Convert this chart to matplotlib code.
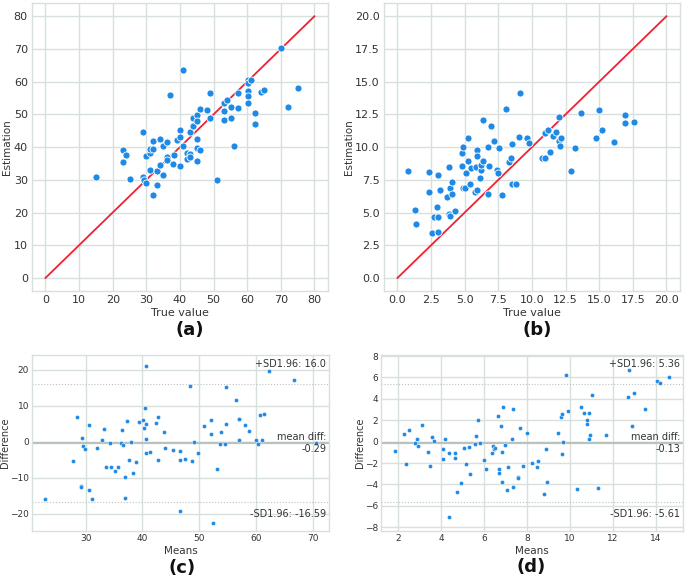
import numpy as np
import matplotlib
matplotlib.use("Agg")
from matplotlib import pyplot as plt

# (a) true value vs estimation
a_true = [15, 23.1, 23.9, 23.1, 25, 29, 29, 29.2, 30, 30, 31, 31.1, 31.1, 32.1, 32.1, 32.1,
          33.1, 33.1, 34, 34, 35, 35, 36.1, 36.1, 36.1, 37.1, 38, 38.2, 39, 40, 40, 40,
          41, 41, 42, 42, 43.1, 43.1, 43.1, 43.9, 43.9, 45, 45, 45, 45, 45, 46, 46,
          48.1, 49, 49, 51.1, 53.1, 53.1, 53.1, 54.1, 55.1, 55.1, 56.1, 57.2, 57.2,
          60.1, 60.1, 60.1, 60.1, 60.1, 61.2, 62.2, 62.2, 64.2, 65.1, 70, 72.1, 75]
a_est = [31, 39.1, 37.5, 35.5, 30.4, 44.7, 31, 30, 37.2, 28.9, 38.1, 39.3, 32.9, 42, 39.3, 25.3,
         32.7, 28.3, 42.6, 34.5, 40.2, 31.6, 41.7, 36.9, 36.1, 56, 34.8, 37.7, 42.2, 45.3, 43, 34.2,
         63.6, 40.2, 38.3, 36.3, 44.7, 38, 36.9, 49, 46.3, 49.9, 47.9, 42.6, 39.6, 35.8, 51.5, 39.1,
         51.2, 56.5, 48.8, 29.9, 53.4, 50.9, 48.4, 54.5, 52.3, 48.9, 40.4, 56.6, 52,
         60.4, 59.5, 57, 55.5, 53.6, 60.4, 50.4, 47.1, 56.9, 57.5, 70.3, 52.3, 58]

# (b) true value vs estimation
b_true = [0.82, 1.34, 1.41, 2.31, 2.38, 2.6, 2.73, 2.93, 2.98, 2.98, 2.98, 3.18, 3.7, 3.82, 3.82,
          3.9, 3.9, 4.09, 4.09, 4.29, 4.81, 4.81, 4.84, 4.89, 5.04, 5.09, 5.21, 5.24, 5.41, 5.43,
          5.73, 5.81, 5.91, 5.93, 5.93, 6.13, 6.2, 6.2, 6.33, 6.33, 6.72, 6.75, 6.8, 6.97, 7.17,
          7.37, 7.49, 7.57, 7.79, 8.09, 8.29, 8.44, 8.49, 8.49, 8.83, 9.0, 9.11, 9.63, 9.8,
          10.72, 10.97, 10.99, 11.19, 11.32, 11.59, 11.76, 11.99, 11.99, 12.11, 12.18, 12.9,
          13.23, 13.62, 14.79, 14.99, 15.21, 16.1, 16.9, 16.9, 17.62]
b_est = [8.15, 5.2, 4.1, 6.6, 8.1, 3.44, 4.69, 5.45, 7.9, 4.64, 3.52, 6.75, 6.19, 8.48, 4.92,
         6.9, 4.71, 7.36, 6.42, 5.12, 9.55, 8.59, 6.88, 10.01, 6.88, 8.03, 10.73, 8.97, 7.16, 8.43,
         6.55, 8.48, 9.76, 9.35, 6.73, 7.67, 8.28, 8.66, 12.05, 8.97, 10.04, 6.42, 8.56, 11.64, 10.47,
         8.25, 8.0, 9.91, 6.34, 12.94, 8.84, 9.2, 10.27, 7.16, 7.16, 10.78, 14.17, 10.73, 10.32,
         9.17, 9.17, 11.06, 11.31, 9.63, 10.85, 11.13, 12.31, 10.45, 10.11, 10.7, 8.15,
         9.91, 12.61, 10.7, 12.82, 11.34, 10.39, 12.46, 11.82, 11.9]

# (c) Bland-Altman: means / differences
c_mean = [22.9, 27.7, 28.5, 29.1, 29.2, 29.4, 29.6, 29.9, 30.6, 30.6, 31.1, 31.9, 32.9, 33.3,
          33.6, 34.3, 34.5, 35.2, 35.7, 36.2, 36.4, 36.5, 36.9, 37.0, 37.2, 37.6, 38.0, 38.4,
          38.9, 39.3, 40.1, 40.2, 40.4, 40.6, 40.6, 40.7, 40.7, 41.4, 42.3, 42.7, 42.7, 43.8,
          43.9, 45.4, 46.6, 46.6, 46.7, 47.5, 48.4, 48.8, 49.1, 49.7, 50.9, 52.0, 52.1, 52.5,
          53.1, 53.6, 53.8, 54.5, 54.8, 54.8, 56.5, 57.0, 57.1, 57.0, 58.0, 58.7, 60.0, 60.4,
          60.7, 61.0, 61.5, 62.3, 66.7, 70.5]
c_diff = [-15.8, -5.3, 6.9, -12.1, -12.4, 1.2, -1.0, -1.9, 4.8, -13.4, -15.9, -1.8, 0.6, 3.5,
          -7.0, -0.4, -7.0, -8.1, -7.0, -0.3, 3.3, -0.8, -15.6, -9.8, 5.8, -5.0, 0.1, -8.7,
          -5.6, 5.6, 6.1, 3.8, 9.3, 21.1, 5.1, 0.8, -3.0, -2.8, 5.4, 6.9, -5.0, 2.7,
          -1.6, -2.3, -2.6, -5.0, -19.1, -4.6, 15.6, -5.3, 0.1, -3.0, 4.5, 6.2, 2.3, -22.6,
          -7.6, -0.7, 2.8, -0.5, 15.2, 5.1, 11.6, 6.5, 6.3, 0.5, 4.6, 3.1, 0.5, -0.6,
          7.5, 0.5, 7.7, 19.8, 17.2, -0.3]
c_stats = {"mean": -0.29, "upper": 16.0, "lower": -16.59, "ylim": (-24.73, 24.15)}

# (d) Bland-Altman: means / differences
d_mean = [1.84, 2.26, 2.37, 2.5, 2.78, 2.89, 2.92, 3.13, 3.41, 3.48, 3.59, 3.68, 4.07, 4.08,
          4.19, 4.38, 4.39, 4.67, 4.67, 4.75, 4.94, 5.09, 5.16, 5.28, 5.33, 5.58, 5.63, 5.73,
          5.82, 5.98, 6.07, 6.35, 6.41, 6.46, 6.53, 6.63, 6.71, 6.71, 6.77, 6.82, 6.82, 6.88,
          6.96, 7.07, 7.13, 7.32, 7.35, 7.35, 7.57, 7.6, 7.69, 7.83, 8.0, 8.22, 8.44, 8.53,
          8.78, 8.86, 8.92, 9.42, 9.58, 9.61, 9.61, 9.67, 9.83, 9.9, 10.32, 10.52, 10.67,
          10.77, 10.81, 10.87, 10.87, 10.93, 11.03, 11.28, 11.68, 12.71, 12.75, 12.87, 12.95,
          13.49, 14.06, 14.19, 14.61]
d_diff = [-0.84, 0.74, -2.13, 1.05, -0.17, 0.27, -0.39, 1.56, -0.95, -2.31, 0.46, 0.02, -0.73,
          -1.65, 0.27, -7.09, -1.11, -1.08, -1.52, -4.7, -3.89, -0.58, -2.06, -0.52, -3.03,
          -0.26, 0.56, 2.0, -0.17, -1.74, -2.53, -1.08, -0.42, -0.7, -0.61, 2.38, -2.59, -2.97,
          1.5, -1.01, -3.81, 3.26, -0.29, -4.54, -2.4, 0.24, 3.01, -4.29, -3.28, -3.37, 1.25,
          -2.27, 0.81, -2.02, -2.4, -1.83, -4.92, -0.7, -3.81, 0.81, 2.32, -1.2, 2.6, -0.04,
          6.25, 2.85, -4.42, 3.23, 2.72, 1.68, 2.06, 2.66, 0.24, 0.59, 4.33, -4.35, 0.59, 4.17,
          6.72, 1.5, 4.55, 3.07, 5.65, 5.49, 6.0]
d_stats = {"mean": -0.13, "upper": 5.36, "lower": -5.61, "ylim": (-8.36, 8.1)}

blue = "#1f8ae6"
grid_c = "#d8e0dd"
text_c = "#333333"

fig = plt.figure(figsize=(6.85, 5.78), dpi=100)


def style(ax, fs):
    ax.set_facecolor("white")
    ax.grid(True, color=grid_c, linewidth=1.0)
    ax.set_axisbelow(True)
    for s in ax.spines.values():
        s.set_color(grid_c)
        s.set_linewidth(1.0)
    ax.tick_params(length=0, labelsize=fs, colors=text_c, pad=3)


def scatter_panel(rect, x, y, lim, ticks):
    ax = fig.add_axes(rect)
    style(ax, 8)
    ax.plot([0, lim], [0, lim], color="#ee2233", linewidth=1.3, zorder=2)
    ax.scatter(x, y, s=26, color=blue, edgecolor="white", linewidth=0.6, zorder=3)
    ax.set_xlim(-lim * 0.05, lim * 1.05)
    ax.set_ylim(-lim * 0.05, lim * 1.05)
    ax.set_xticks(ticks)
    ax.set_yticks(ticks)
    ax.set_xlabel("True value", fontsize=8, color=text_c, labelpad=2)
    ax.set_ylabel("Estimation", fontsize=7.5, color=text_c, labelpad=1)
    return ax


def ba_panel(rect, m, d, st):
    ax = fig.add_axes(rect)
    style(ax, 6.5)
    ax.tick_params(pad=2)
    ax.scatter(m, d, s=9, color=blue, edgecolor="white", linewidth=0.3, zorder=3)
    ax.axhline(st["mean"], color="#b8c2bf", linewidth=1.6, zorder=2)
    ax.axhline(st["upper"], color="#b8c2bf", linewidth=0.8, linestyle=":", zorder=2)
    ax.axhline(st["lower"], color="#b8c2bf", linewidth=0.8, linestyle=":", zorder=2)
    ax.set_ylim(*st["ylim"])
    kw = dict(xycoords="axes fraction", ha="right", fontsize=7, color=text_c)
    ax.annotate("mean diff:\n{}".format(st["mean"]), xy=(0.99, 0.5), va="center", **kw)
    ax.annotate("-SD1.96: {}".format(st["lower"]), xy=(0.99, 0.07), va="bottom", **kw)
    ax.annotate("+SD1.96: {}".format(st["upper"]), xy=(0.99, 0.92), va="bottom", **kw)
    ax.set_xlabel("Means", fontsize=7.5, color=text_c, labelpad=2)
    ax.set_ylabel("Difference", fontsize=7, color=text_c, labelpad=0)
    return ax


scatter_panel([0.0467, 0.4965, 0.432, 0.498], a_true, a_est, 80, range(0, 81, 10))
b_ticks = np.arange(0, 20.1, 2.5)
ax_b = scatter_panel([0.5606, 0.4965, 0.432, 0.498], b_true, b_est, 20, b_ticks)
ax_b.set_xticklabels(["{:.1f}".format(t) for t in b_ticks])
ax_b.set_yticklabels(["{:.1f}".format(t) for t in b_ticks])

ax_c = ba_panel([0.0467, 0.0813, 0.4336, 0.3045], c_mean, c_diff, c_stats)
ax_c.set_yticks([-20, -10, 0, 10, 20])
ax_d = ba_panel([0.556, 0.0813, 0.441, 0.3045], d_mean, d_diff, d_stats)
ax_d.set_yticks(range(-8, 9, 2))
ax_d.set_xticks(range(2, 15, 2))

for lbl, x, y in [("(a)", 0.277, 0.429), ("(b)", 0.784, 0.429),
                  ("(c)", 0.266, 0.017), ("(d)", 0.775, 0.019)]:
    fig.text(x, y, lbl, fontsize=13, fontweight="bold", ha="center", va="center", color="#111111")

fig.savefig("out.png", dpi=100)
